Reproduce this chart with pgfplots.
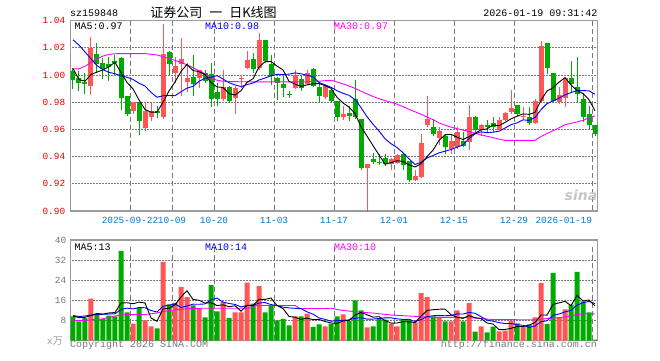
\documentclass[border=0pt]{standalone}
\usepackage{fontspec}
\usepackage{pgfplots}
\usepackage{pgfplotstable}
\pgfplotsset{compat=1.18}
\setmainfont{Liberation Mono}
\newfontfamily\cjk{Noto Sans CJK SC}
\newfontfamily\sinaf{DejaVu Sans}
\newcommand{\tickf}{\fontsize{9.4}{11}\selectfont}
\newcommand{\tf}{\fontsize{10}{12}\selectfont}
\definecolor{cred}{RGB}{255,85,85}
\definecolor{cgreen}{RGB}{0,170,0}
\definecolor{cblue}{RGB}{0,0,255}
\definecolor{cmag}{RGB}{255,0,255}
\definecolor{gridcol}{RGB}{120,120,120}
\definecolor{framec}{RGB}{155,155,155}
\definecolor{xlab}{RGB}{0,120,210}
\definecolor{ylabred}{RGB}{235,0,0}
\definecolor{txtgray}{RGB}{120,120,120}

\pgfplotstableread{
k o h l c v
3 0.992 1.0278 0.9855 1.020 16.7
10 0.9738 0.980 0.971 0.9804 6.8
12 0.9612 0.980 0.9585 0.9738 8.1
13 0.9695 0.980 0.9665 0.9733 5.7
15 0.9695 1.0375 0.9678 1.0156 31.3
17 1.0018 1.013 0.9943 1.0066 15.0
18 1.0078 1.0275 0.9845 1.0115 21.3
19 0.995 1.009 0.9877 0.9981 17.3
21 0.9976 1.004 0.9906 1.0035 12.8
25 0.9823 1.004 0.981 0.9913 15.3
27 0.9831 0.992 0.9714 0.9908 11.3
28 0.9969 1.000 0.9906 0.9981 11.3
29 1.0054 1.0176 1.0042 1.0108 23.1
31 1.0054 1.031 1.004 1.0261 21.7
37 0.9904 1.0035 0.9899 1.000 9.7
39 0.9933 1.004 0.993 1.0018 10.8
42 0.9836 0.9935 0.9826 0.992 5.7
45 0.969 0.977 0.9673 0.9714 10.5
49 0.9318 0.9343 0.895 0.9343 5.3
53 0.9343 0.9393 0.9298 0.938 6.7
54 0.9355 0.9423 0.9343 0.941 5.7
57 0.923 0.9305 0.9218 0.926 7.3
58 0.9248 0.9568 0.9243 0.9498 18.9
59 0.963 0.9843 0.9618 0.968 17.3
61 0.9538 0.9618 0.9488 0.9588 9.3
63 0.9455 0.9568 0.9418 0.9513 7.7
64 0.9468 0.9618 0.9455 0.958 12.0
66 0.9505 0.978 0.945 0.9695 14.9
68 0.9593 0.9641 0.9555 0.9634 5.7
71 0.9593 0.969 0.9593 0.9666 3.7
72 0.9666 0.9727 0.9661 0.972 4.0
73 0.9727 0.989 0.9714 0.9758 8.0
75 0.969 0.9763 0.9678 0.9702 5.6
77 0.9646 0.9824 0.9641 0.9807 9.3
78 0.9807 1.0254 0.980 1.0212 22.9
81 0.980 0.991 0.979 0.9855 9.3
82 0.9832 0.998 0.9763 0.998 12.4
}\uptab

\pgfplotstableread{
k o h l c v
0 1.003 1.0054 0.9896 0.9962 9.7
1 0.9981 1.003 0.988 0.9945 7.7
2 0.995 1.0018 0.986 0.9933 9.0
4 1.0156 1.0236 1.0018 1.0078 10.8
5 1.0091 1.0127 0.9969 1.0042 8.7
6 1.008 1.013 0.996 1.006 10.0
7 1.010 1.015 1.000 1.009 9.7
8 1.0127 1.013 0.9743 0.9831 35.7
9 0.9848 0.9848 0.970 0.9714 11.3
11 0.980 0.980 0.9556 0.966 13.1
14 0.9738 0.977 0.9685 0.9719 4.9
16 1.0171 1.0175 1.000 1.0078 14.4
20 0.9986 1.015 0.9845 0.9933 14.0
22 1.0018 1.004 0.994 0.9957 9.3
23 1.0006 1.009 0.9763 0.9823 22.1
24 0.9879 0.994 0.977 0.9823 11.7
26 0.9913 0.992 0.9795 0.9811 9.1
30 1.0115 1.0164 1.0016 1.0042 14.7
32 1.0261 1.0261 1.009 1.0103 11.3
33 1.0083 1.015 0.993 0.9993 14.0
34 0.9981 0.9985 0.982 0.9945 8.1
35 0.9933 0.999 0.984 0.9904 8.7
36 0.9862 0.9885 0.983 0.9855 6.1
38 0.9969 0.999 0.988 0.9908 9.7
40 1.0042 1.005 0.9915 0.992 5.5
41 0.9913 0.9935 0.980 0.9848 6.5
43 0.9889 0.9895 0.980 0.9811 6.8
44 0.9811 0.9811 0.9665 0.969 9.7
46 0.9719 0.977 0.966 0.9697 7.8
47 0.9823 0.9962 0.968 0.969 16.0
48 0.968 0.968 0.9305 0.9318 12.0
50 0.938 0.943 0.9343 0.9363 5.7
51 0.9358 0.9418 0.9335 0.9353 8.7
52 0.9393 0.9423 0.933 0.9343 8.4
55 0.9423 0.943 0.9305 0.9338 8.3
56 0.9368 0.9368 0.9213 0.923 8.3
60 0.9618 0.968 0.9555 0.9568 9.7
62 0.9555 0.9568 0.9418 0.9473 7.7
65 0.9513 0.958 0.9468 0.9475 7.7
67 0.9695 0.970 0.958 0.9593 3.6
69 0.9634 0.9666 0.958 0.9617 3.3
70 0.9646 0.969 0.958 0.9617 5.6
74 0.9778 0.9783 0.9702 0.9714 6.9
76 0.9695 0.9763 0.9636 0.9646 6.4
79 1.0237 1.0237 1.0005 1.0054 6.7
80 1.0017 1.0017 0.980 0.9812 26.9
83 0.998 1.0107 0.9871 0.9932 14.3
84 0.9912 1.0132 0.980 0.9859 27.3
85 0.9824 0.9866 0.9653 0.969 15.6
86 0.9714 0.9776 0.9598 0.9636 11.3
87 0.9636 0.9636 0.9555 0.9568 0.4
}\dntab

\pgfplotstableread{
k pma5 pma10 vma5 vma10
0 1.0048 1.026 9.8 10.0
1 0.9967 1.022 9.2 9.6
2 0.9955 1.017 9.3 9.8
3 1.0004 1.012 10.0 10.2
4 1.0022 1.007 10.78 10.4
5 1.0038 1.004 10.58 10.5
6 1.0062 1.002 11.04 10.6
7 1.0094 1.001 11.18 10.7
8 1.0019 0.9995 14.98 12.4
9 0.9946 0.9984 15.08 12.93
10 0.9898 0.9968 14.7 12.64
11 0.9818 0.9940 15.32 13.18
12 0.9747 0.9920 15.0 13.09
13 0.9727 0.9873 9.0 11.99
14 0.9728 0.9837 7.72 11.4
15 0.9799 0.9848 12.62 13.66
16 0.9883 0.9850 12.88 14.1
17 0.9949 0.9848 14.26 14.63
18 1.0026 0.9877 17.38 13.19
19 1.0079 0.9904 19.86 13.79
20 1.0034 0.9917 16.4 14.51
21 1.0025 0.9954 16.08 14.48
22 1.0004 0.9976 14.94 14.6
23 0.9945 0.9985 15.1 16.24
24 0.9913 0.9996 13.98 16.92
25 0.9909 0.9971 14.24 15.32
26 0.9864 0.9944 13.5 14.79
27 0.9853 0.9928 13.9 14.42
28 0.9885 0.9915 11.74 13.42
29 0.9947 0.9930 14.02 14.0
30 0.9973 0.9941 13.9 14.07
31 1.0059 0.9964 16.42 14.96
32 1.0098 0.9978 16.42 15.16
33 1.0100 0.9995 16.96 14.35
34 1.0066 1.0005 13.96 13.99
35 1.0038 1.0004 12.76 13.33
36 0.9954 1.0007 9.64 13.03
37 0.9934 1.0016 9.32 12.87
38 0.9917 1.0009 8.46 12.71
39 0.9928 0.9999 9.0 11.48
40 0.9936 0.9987 8.36 10.56
41 0.9938 0.9946 8.44 9.04
42 0.9922 0.9928 7.64 8.48
43 0.9903 0.9910 7.06 7.76
44 0.9837 0.9885 6.84 7.92
45 0.9795 0.9866 7.84 8.1
46 0.9764 0.9851 8.1 8.27
47 0.9718 0.9820 10.16 8.9
48 0.9620 0.9761 11.2 9.13
49 0.9551 0.9694 10.32 8.58
50 0.9481 0.9638 9.36 8.6
51 0.9413 0.9589 9.54 8.82
52 0.9344 0.9532 8.02 9.09
53 0.9356 0.9495 6.96 9.08
54 0.9370 0.9467 7.04 8.68
55 0.9365 0.9429 7.56 8.46
56 0.9340 0.9384 7.48 8.51
57 0.9324 0.9342 7.26 7.64
58 0.9347 0.9358 9.7 8.33
59 0.9401 0.9390 12.02 9.53
60 0.9447 0.9408 12.3 9.93
61 0.9519 0.9428 12.5 9.99
62 0.9561 0.9440 12.58 9.92
63 0.9564 0.9452 10.34 10.02
64 0.9544 0.9470 9.28 10.65
65 0.9526 0.9486 8.88 10.59
66 0.9547 0.9532 10.0 11.25
67 0.9572 0.9567 9.18 10.88
68 0.9597 0.9582 8.78 9.56
69 0.9604 0.9576 7.04 8.16
70 0.9633 0.9580 6.62 7.75
71 0.9627 0.9587 4.38 7.19
72 0.9652 0.9610 4.46 6.82
73 0.9678 0.9635 4.92 6.85
74 0.9697 0.9648 5.64 6.34
75 0.9714 0.9671 5.64 6.13
76 0.9711 0.9666 6.18 5.28
77 0.9726 0.9688 7.24 5.85
78 0.9815 0.9746 10.22 7.57
79 0.9883 0.9790 10.18 7.91
80 0.9906 0.9810 14.44 10.04
81 0.9948 0.9830 15.02 10.6
82 0.9982 0.9855 15.64 11.44
83 0.9927 0.9871 13.92 12.07
84 0.9887 0.9887 18.04 14.11
85 0.9865 0.9886 15.78 15.11
86 0.9819 0.9884 16.18 15.6
87 0.9737 0.9859 13.78 14.71
}\matab

\pgfplotstableread{
k p
0 1.0045
1 1.0046
2 1.0065
3 1.0092
4 1.0120
5 1.0140
6 1.0152
7 1.0157
8 1.0158
12 1.0158
14 1.0148
15 1.0135
16 1.0122
17 1.0108
18 1.0093
19 1.0075
20 1.0055
21 1.0032
22 1.0010
23 0.9980
24 0.9962
25 0.9955
26 0.9952
30 0.9950
38 0.9950
41 0.9955
43 0.9962
44 0.9950
45 0.9935
46 0.9920
47 0.9902
48 0.9882
49 0.9862
50 0.9842
51 0.9826
52 0.9812
53 0.9800
54 0.9786
55 0.9768
56 0.9748
57 0.9730
58 0.9712
59 0.9692
60 0.9672
61 0.9648
62 0.9632
63 0.9617
64 0.9606
65 0.9595
66 0.9585
67 0.9572
68 0.9560
69 0.9550
70 0.9540
71 0.9528
72 0.9520
77 0.9520
78 0.9548
79 0.9570
80 0.9590
81 0.9612
82 0.9635
83 0.9645
84 0.9655
85 0.9667
86 0.9685
87 0.9700
}\pmathirty

\pgfplotstableread{
k v
0 7.9
2 8.1
3 8.3
5 8.7
7 9.8
8 10.3
12 10.4
14 11.0
16 12.0
19 12.7
22 12.9
29.5 12.9
30.5 14.0
37 14.0
37.8 12.8
42 12.8
43 12.9
45 12.0
48 11.3
50 11.0
53 10.2
56 9.8
60 9.3
66 9.2
70 8.4
77 8.3
79 8.8
82 9.4
84 10.4
86 10.8
87 10.6
}\vmathirty

\begin{document}
\begin{tikzpicture}
\useasboundingbox (0pt,0pt) rectangle (660pt,360pt);
% ---------------- grid lines ----------------
\begin{scope}[x=1pt, y=1pt]
\foreach \gx in {130.5,172.5,214.5,274.5,334.5,394.5,454.5,514.5,592.5}{
  \foreach \yy in {150,158,...,334}{\fill[gridcol] (\gx-0.75,\yy) rectangle (\gx+0.75,\yy+5);}
  \foreach \yy in {20,28,...,112}{\fill[gridcol] (\gx-0.75,\yy) rectangle (\gx+0.75,\yy+5);}
}
\foreach \gy in {176.5,203.5,230.5,257.5,284.5,312.5,39.5,59.5,79.5,99.5}{
  \foreach \xx in {72,75,...,596}{\fill[gridcol] (\xx,\gy-0.75) rectangle (\xx+1.5,\gy+0.75);}
}
\end{scope}
% ---------------- price panel ----------------
\begin{axis}[
  at={(70.7pt,149pt)}, anchor=south west, scale only axis,
  width=527pt, height=190.3pt,
  xmin=-0.383, xmax=87.45, ymin=0.90, ymax=1.04,
  xtick={9.5,16.5,23.5,33.5,43.5,53.5,63.5,73.5,86.5},
  xticklabels={2025-09-22,10-09,10-20,11-03,11-17,12-01,12-15,12-29,\llap{2026-01-19}},
  ytick={0.90,0.92,0.94,0.96,0.98,1.00,1.02,1.04},
  yticklabels={0.90,0.92,0.94,0.96,0.98,1.00,1.02,1.04},
  tick style={draw=none},
  axis line style={draw=framec, line width=1.4pt},
  xticklabel style={font=\tickf, text=xlab, yshift=-3pt},
  yticklabel style={font=\tickf, text=ylabred, xshift=-2pt},
]
% wicks
\addplot[draw=none, forget plot, error bars/.cd, y dir=plus, y explicit, error mark=none,
  error bar style={draw=cred, line width=1pt, solid}]
  table[x=k, y=l, y error expr=\thisrow{h}-\thisrow{l}] {\uptab};
\addplot[draw=none, forget plot, error bars/.cd, y dir=plus, y explicit, error mark=none,
  error bar style={draw=cgreen, line width=1pt, solid}]
  table[x=k, y=l, y error expr=\thisrow{h}-\thisrow{l}] {\dntab};
% bodies
\addplot[draw=none, forget plot, error bars/.cd, y dir=plus, y explicit, error mark=none,
  error bar style={draw=cred, line width=5pt, solid}]
  table[x=k, y=o, y error expr=\thisrow{c}-\thisrow{o}] {\uptab};
\addplot[draw=none, forget plot, error bars/.cd, y dir=plus, y explicit, error mark=none,
  error bar style={draw=cgreen, line width=5pt, solid}]
  table[x=k, y=c, y error expr=\thisrow{o}-\thisrow{c}] {\dntab};
% moving averages
\addplot[draw=cmag, line width=0.9pt, mark=none] table[x=k, y=p] {\pmathirty};
\addplot[draw=cblue, line width=0.9pt, mark=none] table[x=k, y=pma10] {\matab};
\addplot[draw=black, line width=0.9pt, mark=none] table[x=k, y=pma5] {\matab};
\end{axis}
% ---------------- volume panel ----------------
\begin{axis}[
  at={(70.7pt,19.3pt)}, anchor=south west, scale only axis,
  width=527pt, height=100.7pt,
  xmin=-0.383, xmax=87.45, ymin=0, ymax=40,
  xtick={9.5,16.5,23.5,33.5,43.5,53.5,63.5,73.5,86.5},
  xticklabels={},
  ytick={8,16,24,32,40},
  yticklabels={8,16,24,32,40},
  tick style={draw=none},
  axis line style={draw=framec, line width=1.4pt},
  yticklabel style={font=\tickf, text=txtgray, xshift=-1pt},
]
\addplot[ybar, bar width=5pt, bar shift=0pt, fill=cred, draw=none, forget plot] table[x=k, y=v] {\uptab};
\addplot[ybar, bar width=5pt, bar shift=0pt, fill=cgreen, draw=none, forget plot] table[x=k, y=v] {\dntab};
\addplot[draw=cmag, line width=0.9pt, mark=none] table[x=k, y=v] {\vmathirty};
\addplot[draw=cblue, line width=0.9pt, mark=none] table[x=k, y=vma10] {\matab};
\addplot[draw=black, line width=0.9pt, mark=none] table[x=k, y=vma5] {\matab};
\end{axis}
% ---------------- texts ----------------
\node[anchor=base west, inner sep=0pt, font=\tf] at (70pt,343.3pt) {sz159848};
\node[anchor=base, inner sep=0pt, font=\cjk\fontsize{13}{15}\selectfont] at (213.5pt,342.5pt) {证券公司\hspace{7pt}一\hspace{7pt}日K线图};
\node[anchor=base east, inner sep=0pt, font=\tf] at (597.5pt,343.3pt) {2026-01-19 09:31:42};
\node[anchor=base west, inner sep=0pt, font=\tf, text=black] at (74.5pt,330.7pt) {MA5:0.97};
\node[anchor=base west, inner sep=0pt, font=\tf, text=cblue] at (205pt,330.7pt) {MA10:0.98};
\node[anchor=base west, inner sep=0pt, font=\tf, text=cmag] at (334pt,330.7pt) {MA30:0.97};
\node[anchor=base west, inner sep=0pt, font=\tf, text=black] at (74.5pt,110pt) {MA5:13};
\node[anchor=base west, inner sep=0pt, font=\tf, text=cblue] at (205pt,110pt) {MA10:14};
\node[anchor=base west, inner sep=0pt, font=\tf, text=cmag] at (334pt,110pt) {MA30:10};
\node[anchor=base east, inner sep=0pt, font=\tf, text=txtgray!70] at (63pt,15.5pt) {x{\cjk 万}};
\node[anchor=base west, inner sep=0pt, font=\tf, text=txtgray] at (70pt,12.5pt) {Copyright 2026 SINA.COM};
\node[anchor=base east, inner sep=0pt, font=\tf, text=txtgray] at (597pt,12.5pt) {http://finance.sina.com.cn};
\node[anchor=center, inner sep=0pt, text=black!22, font=\sinaf\bfseries\itshape\fontsize{14}{16}\selectfont] at (581pt,165pt) {sina};
\end{tikzpicture}
\end{document}
